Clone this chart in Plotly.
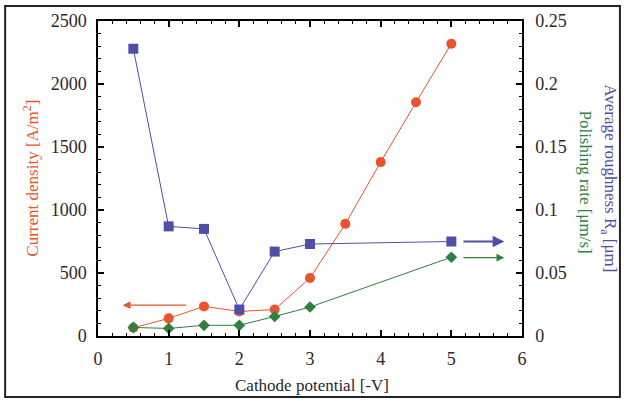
import plotly.graph_objects as go

x_current = [0.5, 1, 1.5, 2, 2.5, 3, 3.5, 4, 4.5, 5]
current_density = [65, 140, 235, 195, 210, 460, 890, 1380, 1855, 2320]

x_rough = [0.5, 1, 1.5, 2, 2.5, 3, 5]
roughness = [0.228, 0.087, 0.085, 0.021, 0.067, 0.073, 0.075]

x_rate = [0.5, 1, 1.5, 2, 2.5, 3, 5]
polishing_rate = [0.0068, 0.006, 0.0085, 0.0085, 0.0155, 0.023, 0.0625]

ORANGE = "#e8542c"
BLUE = "#4f4fa6"
GREEN = "#2f7f40"
TXT = "#2a2a2a"
FONT = "Liberation Serif"

fig = go.Figure()
fig.add_trace(go.Scatter(x=x_current, y=current_density, mode="lines+markers",
                         line=dict(color=ORANGE, width=1),
                         marker=dict(symbol="circle", size=10, color=ORANGE), yaxis="y"))
fig.add_trace(go.Scatter(x=x_rough, y=roughness, mode="lines+markers",
                         line=dict(color=BLUE, width=1),
                         marker=dict(symbol="square", size=10, color=BLUE), yaxis="y2"))
fig.add_trace(go.Scatter(x=x_rate, y=polishing_rate, mode="lines+markers",
                         line=dict(color=GREEN, width=1),
                         marker=dict(symbol="diamond", size=9, color=GREEN), yaxis="y2"))

axis_common = dict(showline=True, linecolor="black", linewidth=1.5, ticks="inside",
                   tickcolor="black", ticklen=6, tickwidth=1.5, showgrid=False,
                   zeroline=False, tickfont=dict(family=FONT, size=18, color=TXT))

fig.update_layout(
    width=624, height=401,
    margin=dict(l=98, r=102, t=21, b=65),
    paper_bgcolor="white", plot_bgcolor="white",
    showlegend=False,
    font=dict(family=FONT),
    xaxis=dict(range=[0, 6], tickvals=[0, 1, 2, 3, 4, 5, 6], mirror="ticks",
               ticklabelstandoff=6,
               minor=dict(ticks="inside", dtick=0.2, ticklen=3, tickcolor="black", tickwidth=1),
               **axis_common),
    yaxis=dict(range=[0, 2500], tickvals=[0, 500, 1000, 1500, 2000, 2500],
               ticklabelstandoff=6,
               minor=dict(ticks="inside", dtick=100, ticklen=3, tickcolor="black", tickwidth=1),
               **axis_common),
    yaxis2=dict(range=[0, 0.25], overlaying="y", side="right",
                tickvals=[0, 0.05, 0.1, 0.15, 0.2, 0.25], ticktext=["0", "0.05", "0.1", "0.15", "0.2", "0.25"],
                ticklabelstandoff=8,
                minor=dict(ticks="inside", dtick=0.01, ticklen=3, tickcolor="black", tickwidth=1),
                **axis_common),
)

fig.add_annotation(x=0.505, y=-0.156, xref="paper", yref="paper", text="Cathode potential [-V]",
                   showarrow=False, font=dict(family=FONT, size=17, color=TXT),
                   xanchor="center", yanchor="middle")
fig.add_annotation(x=-0.160, y=0.5, xref="paper", yref="paper", text="Current density [A/m<sup>2</sup>]",
                   textangle=-90, showarrow=False, font=dict(family=FONT, size=17, color=ORANGE),
                   xanchor="center", yanchor="middle")
fig.add_annotation(x=1.149, y=0.49, xref="paper", yref="paper", text="Polishing rate [μm/s]",
                   textangle=90, showarrow=False, font=dict(family=FONT, size=17, color=GREEN),
                   xanchor="center", yanchor="middle")
fig.add_annotation(x=1.206, y=0.5, xref="paper", yref="paper", text="Average roughness R<sub>a</sub> [μm]",
                   textangle=90, showarrow=False, font=dict(family=FONT, size=17, color=BLUE),
                   xanchor="center", yanchor="middle")

# direction arrows
fig.add_annotation(x=0.35, y=245, ax=1.27, ay=245, xref="x", yref="y", axref="x", ayref="y",
                   text="", showarrow=True, arrowhead=2, arrowsize=1.3, arrowwidth=1.2, arrowcolor=ORANGE)
fig.add_annotation(x=5.75, y=0.075, ax=5.15, ay=0.075, xref="x", yref="y2", axref="x", ayref="y2",
                   text="", showarrow=True, arrowhead=2, arrowsize=1.3, arrowwidth=1.8, arrowcolor=BLUE)
fig.add_annotation(x=5.75, y=0.0622, ax=5.15, ay=0.0622, xref="x", yref="y2", axref="x", ayref="y2",
                   text="", showarrow=True, arrowhead=2, arrowsize=1.3, arrowwidth=1.2, arrowcolor=GREEN)

# outer frame
fig.add_shape(type="rect", xref="paper", yref="paper", x0=-0.219, x1=1.231, y0=-0.194, y1=1.048,
              line=dict(color="#222", width=2), layer="below")

fig.write_html("out.html")
